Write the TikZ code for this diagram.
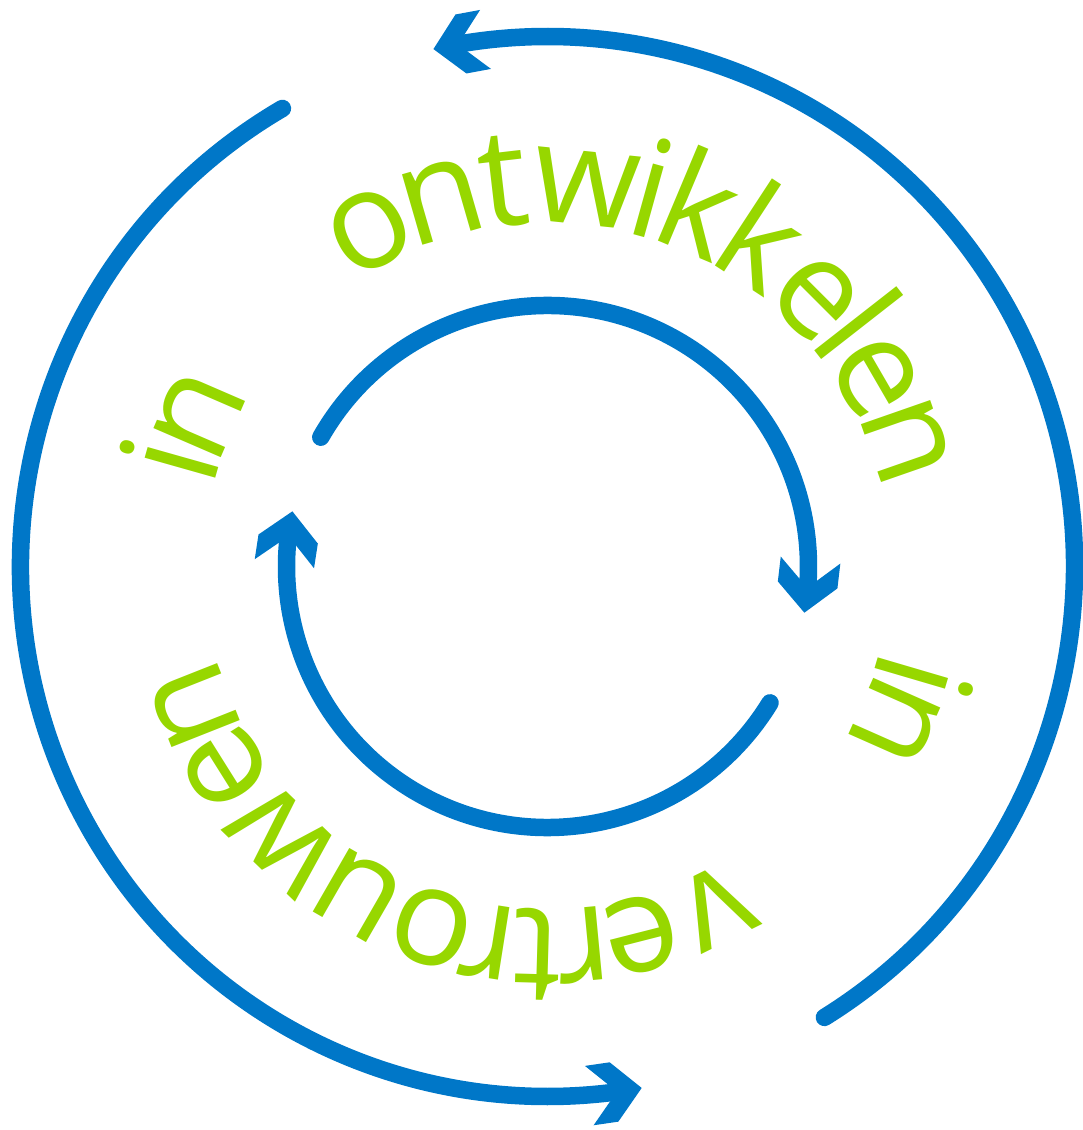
\documentclass[tikz,border=0pt]{standalone}
\usepackage{fontspec}
\setmainfont{Open Sans}
\definecolor{ringblue}{HTML}{0077C8}
\definecolor{wordgreen}{HTML}{97D700}
\tikzset{
  ring/.style={line width=0.35cm, color=ringblue, line cap=round},
  letter/.style={text=wordgreen, font=\fontsize{78}{80}\selectfont, anchor=base, inner sep=0pt},
  chevron/.pic={\fill[ringblue] (0,0) -- (-0.56,0.6) -- (-1.06,0.6) -- (-0.5,0) -- (-1.06,-0.6) -- (-0.56,-0.6) -- cycle;}
}

\begin{document}
\begin{tikzpicture}
  \useasboundingbox (-10.95,-11.27) rectangle (10.71,11.33);

  % outer ring, running anticlockwise
  \draw[ring] (120.2:10.54 and 10.6) arc[start angle=120.2, end angle=278.1, x radius=10.54, y radius=10.6];
  \pic[rotate=-79.7+88] at (-79.7:10.54 and 10.6) {chevron};
  \draw[ring] (-58.3:10.54 and 10.6) arc[start angle=-58.3, end angle=100.3, x radius=10.54, y radius=10.6];
  \pic[rotate=102.5+88] at (102.5:10.54 and 10.6) {chevron};

  % inner ring, running clockwise
  \draw[ring] (150.3:5.22) arc[start angle=150.3, end angle=-5.8, radius=5.22];
  \pic[rotate=-10.2-86.5] at (-10.2:5.22) {chevron};
  \draw[ring] (-31.5:5.22) arc[start angle=-31.5, end angle=-187.8, radius=5.22];
  \pic[rotate=167.8-86.5] at (167.8:5.22) {chevron};

  % words round the inner ring
  \foreach \ch/\ang [count=\k] in {i/164.2, n/156.6, o/117.9, n/106.1, t/96.6, w/84.2, i/74.5, k/67.2, k/56.8, e/45, l/38, e/30.1, n/19.2,
      i/-16.4, n/-23.9, v/-63.7, e/-75.7, r/-84.6, t/-91.6, r/-99, o/-107.7, u/-119.9, w/-134, e/-147.9, n/-158.4}
    \node[letter, rotate=\ang-90] (ch\k) at (\ang:6.86) {\ch};
\end{tikzpicture}
\end{document}
